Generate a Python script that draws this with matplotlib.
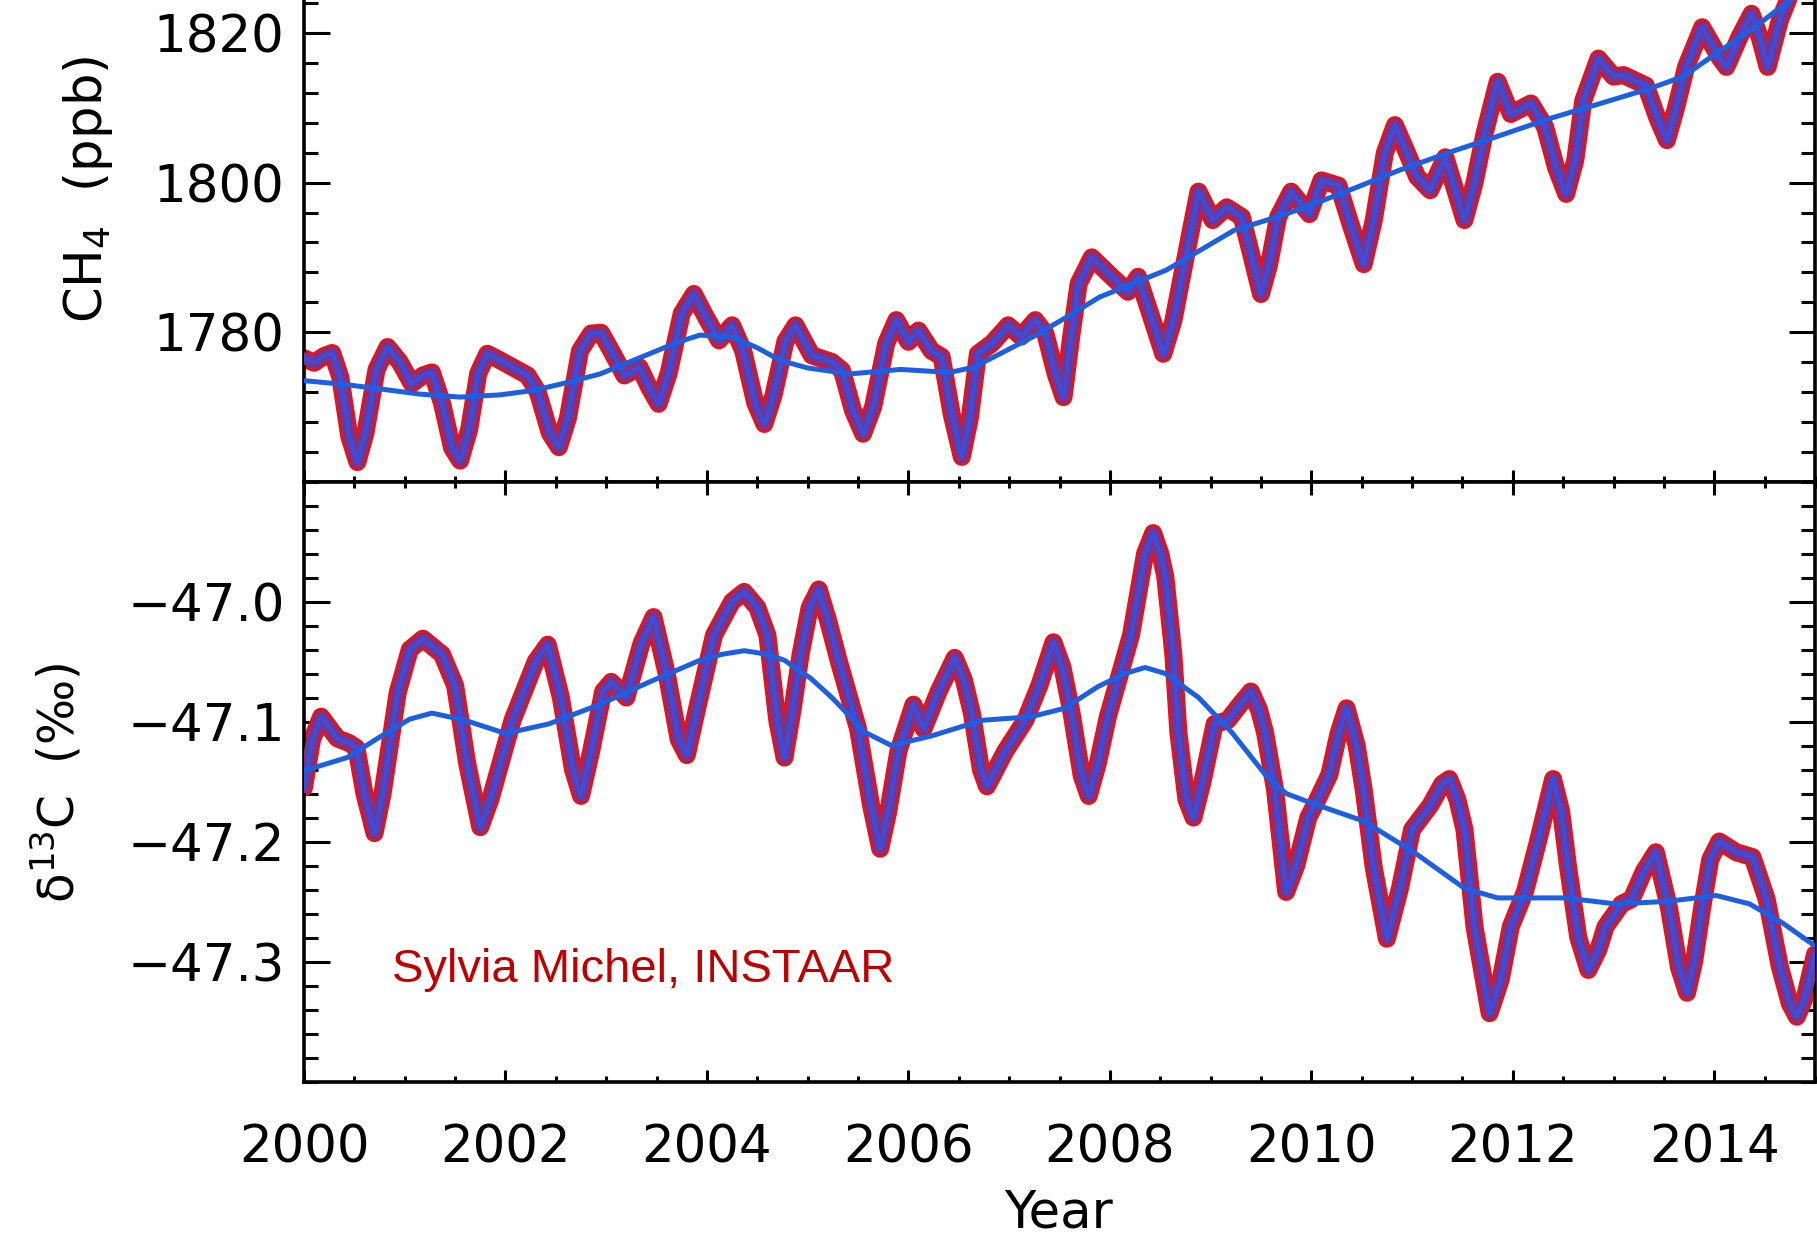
import numpy as np
import matplotlib
matplotlib.use('Agg')
import matplotlib.pyplot as plt

# CH4 record (ppb)
ch4_year = [2000.00, 2000.10, 2000.20, 2000.28, 2000.36, 2000.45, 2000.53, 2000.61, 2000.72, 2000.83,
            2000.95, 2001.07, 2001.18, 2001.27, 2001.37, 2001.47, 2001.55, 2001.64, 2001.73, 2001.82,
            2001.95, 2002.07, 2002.22, 2002.32, 2002.44, 2002.53, 2002.62, 2002.74, 2002.85, 2002.95,
            2003.07, 2003.18, 2003.33, 2003.43, 2003.52, 2003.62, 2003.75, 2003.87, 2003.99, 2004.12,
            2004.25, 2004.36, 2004.48, 2004.57, 2004.66, 2004.78, 2004.88, 2005.04, 2005.24, 2005.34,
            2005.45, 2005.55, 2005.65, 2005.78, 2005.88, 2006.00, 2006.10, 2006.23, 2006.33, 2006.43,
            2006.53, 2006.61, 2006.69, 2006.83, 2006.99, 2007.12, 2007.26, 2007.36, 2007.46, 2007.54,
            2007.62, 2007.69, 2007.82, 2008.02, 2008.18, 2008.28, 2008.40, 2008.53, 2008.63, 2008.74,
            2008.88, 2009.02, 2009.16, 2009.31, 2009.42, 2009.50, 2009.58, 2009.67, 2009.80, 2009.98,
            2010.10, 2010.27, 2010.40, 2010.52, 2010.62, 2010.73, 2010.83, 2010.95, 2011.05, 2011.18,
            2011.33, 2011.43, 2011.52, 2011.62, 2011.72, 2011.85, 2011.98, 2012.18, 2012.32, 2012.43,
            2012.53, 2012.62, 2012.70, 2012.85, 2013.00, 2013.10, 2013.32, 2013.44, 2013.53, 2013.62,
            2013.72, 2013.88, 2014.05, 2014.12, 2014.25, 2014.37, 2014.45, 2014.53, 2014.65, 2014.73,
            2014.80]
ch4_ppb = [1776.5, 1775.9, 1776.8, 1777.2, 1774.0, 1766.0, 1762.6, 1766.5, 1775.0, 1778.0,
           1776.0, 1773.1, 1774.2, 1774.6, 1770.5, 1764.5, 1762.8, 1767.0, 1774.5, 1777.1,
           1776.2, 1775.3, 1774.2, 1772.0, 1766.5, 1764.6, 1768.5, 1777.5, 1779.8, 1779.9,
           1777.0, 1774.2, 1775.3, 1772.5, 1770.4, 1774.5, 1782.5, 1785.1, 1782.0, 1778.9,
           1780.9, 1777.5, 1770.5, 1767.7, 1771.5, 1778.8, 1780.9, 1776.9, 1776.0, 1774.9,
           1769.5, 1766.4, 1770.0, 1778.5, 1781.6, 1778.7, 1780.2, 1777.5, 1776.7, 1769.0,
           1763.3, 1768.5, 1777.1, 1778.5, 1780.9, 1779.4, 1781.6, 1779.8, 1774.5, 1771.3,
           1779.8, 1786.5, 1790.0, 1787.4, 1785.4, 1787.4, 1782.5, 1777.1, 1781.5, 1789.2,
           1798.8, 1795.0, 1796.7, 1795.4, 1789.5, 1785.1, 1789.0, 1795.4, 1798.8, 1795.8,
           1800.3, 1799.6, 1794.0, 1789.1, 1795.0, 1804.0, 1807.7, 1804.0, 1800.8, 1799.0,
           1803.4, 1799.0, 1795.0, 1800.0, 1806.6, 1813.5, 1809.2, 1810.6, 1807.5, 1802.0,
           1798.5, 1803.0, 1811.0, 1816.6, 1814.2, 1814.4, 1813.0, 1808.5, 1805.7, 1810.0,
           1815.5, 1820.8, 1816.8, 1815.5, 1819.5, 1822.6, 1819.5, 1815.5, 1821.7, 1824.4,
           1827.0]

# CH4 smooth trend
ch4_trend_year = [2000.00, 2000.40, 2000.75, 2001.15, 2001.55, 2001.95, 2002.28, 2002.60, 2002.94, 2003.43,
                  2003.70, 2003.93, 2004.26, 2004.50, 2004.73, 2005.00, 2005.42, 2005.92, 2006.41, 2006.65,
                  2006.91, 2007.24, 2007.57, 2007.90, 2008.23, 2008.56, 2008.89, 2009.23, 2009.56, 2009.90,
                  2010.38, 2010.88, 2011.38, 2011.87, 2012.37, 2012.87, 2013.36, 2013.69, 2014.02, 2014.36,
                  2014.75, 2015.00]
ch4_trend = [1773.5, 1773.0, 1772.4, 1771.7, 1771.3, 1771.6, 1772.2, 1773.2, 1774.4, 1777.1,
             1778.6, 1779.6, 1779.3, 1777.9, 1776.2, 1775.2, 1774.4, 1775.0, 1774.6, 1775.3,
             1777.1, 1779.4, 1782.0, 1784.7, 1786.5, 1788.3, 1790.9, 1793.6, 1795.0, 1796.5,
             1799.0, 1801.7, 1804.1, 1806.3, 1808.6, 1810.6, 1812.6, 1814.2, 1817.3, 1820.4,
             1824.4, 1827.0]

# d13C record (permil)
d13c_year = [2000.00, 2000.08, 2000.17, 2000.25, 2000.33, 2000.45, 2000.52, 2000.60, 2000.70, 2000.78,
             2000.93, 2001.05, 2001.18, 2001.37, 2001.50, 2001.62, 2001.75, 2001.85, 2002.07, 2002.30,
             2002.42, 2002.55, 2002.67, 2002.75, 2002.85, 2002.97, 2003.05, 2003.20, 2003.35, 2003.47,
             2003.60, 2003.72, 2003.80, 2003.90, 2004.07, 2004.25, 2004.37, 2004.50, 2004.60, 2004.70,
             2004.77, 2004.85, 2004.93, 2005.02, 2005.11, 2005.20, 2005.31, 2005.50, 2005.63, 2005.72,
             2005.80, 2005.90, 2006.05, 2006.15, 2006.30, 2006.46, 2006.55, 2006.63, 2006.72, 2006.78,
             2006.96, 2007.16, 2007.30, 2007.44, 2007.53, 2007.62, 2007.72, 2007.79, 2007.88, 2007.98,
             2008.21, 2008.35, 2008.43, 2008.50, 2008.55, 2008.63, 2008.68, 2008.76, 2008.83, 2008.92,
             2009.04, 2009.17, 2009.30, 2009.40, 2009.48, 2009.54, 2009.64, 2009.75, 2009.85, 2009.97,
             2010.05, 2010.18, 2010.27, 2010.35, 2010.45, 2010.52, 2010.62, 2010.75, 2010.88, 2011.00,
             2011.18, 2011.30, 2011.37, 2011.45, 2011.52, 2011.62, 2011.77, 2011.88, 2011.98, 2012.12,
             2012.25, 2012.40, 2012.48, 2012.55, 2012.65, 2012.75, 2012.85, 2012.92, 2013.08, 2013.18,
             2013.30, 2013.42, 2013.55, 2013.65, 2013.73, 2013.80, 2013.88, 2013.96, 2014.05, 2014.22,
             2014.38, 2014.52, 2014.65, 2014.75, 2014.82, 2014.90, 2015.00]
d13c = [-47.155, -47.115, -47.096, -47.105, -47.114, -47.118, -47.122, -47.160, -47.193, -47.160,
        -47.076, -47.040, -47.031, -47.044, -47.070, -47.135, -47.188, -47.165, -47.099, -47.050,
        -47.036, -47.080, -47.140, -47.162, -47.125, -47.075, -47.067, -47.080, -47.035, -47.013,
        -47.060, -47.115, -47.128, -47.090, -47.028, -47.000, -46.992, -47.005, -47.028, -47.100,
        -47.130, -47.090, -47.044, -47.005, -46.990, -47.015, -47.050, -47.106, -47.170, -47.206,
        -47.175, -47.125, -47.086, -47.106, -47.075, -47.047, -47.065, -47.093, -47.140, -47.154,
        -47.125, -47.099, -47.070, -47.034, -47.055, -47.093, -47.145, -47.162, -47.135, -47.096,
        -47.028, -46.960, -46.943, -46.960, -46.979, -47.044, -47.109, -47.165, -47.180, -47.150,
        -47.102, -47.099, -47.085, -47.075, -47.090, -47.109, -47.157, -47.242, -47.220, -47.180,
        -47.167, -47.144, -47.110, -47.089, -47.120, -47.157, -47.222, -47.281, -47.239, -47.190,
        -47.170, -47.152, -47.148, -47.165, -47.190, -47.271, -47.343, -47.315, -47.271, -47.242,
        -47.200, -47.148, -47.175, -47.222, -47.280, -47.307, -47.290, -47.271, -47.252, -47.248,
        -47.225, -47.209, -47.255, -47.305, -47.326, -47.300, -47.255, -47.215, -47.200, -47.209,
        -47.213, -47.248, -47.304, -47.335, -47.346, -47.330, -47.294]

# d13C smooth trend
d13c_trend_year = [2000.00, 2000.43, 2000.77, 2001.05, 2001.27, 2001.60, 2002.00, 2002.43, 2002.93, 2003.43,
                   2003.93, 2004.15, 2004.37, 2004.60, 2004.77, 2005.03, 2005.24, 2005.57, 2005.83, 2006.23,
                   2006.73, 2007.22, 2007.55, 2007.88, 2008.15, 2008.35, 2008.55, 2008.88, 2009.21, 2009.54,
                   2009.75, 2009.97, 2010.52, 2011.02, 2011.52, 2011.85, 2012.52, 2013.02, 2013.52, 2014.02,
                   2014.35, 2014.68, 2015.00]
d13c_trend = [-47.141, -47.130, -47.112, -47.098, -47.093, -47.099, -47.110, -47.102, -47.086, -47.067,
              -47.049, -47.044, -47.041, -47.044, -47.049, -47.064, -47.080, -47.109, -47.120, -47.112,
              -47.099, -47.096, -47.089, -47.071, -47.060, -47.055, -47.060, -47.080, -47.109, -47.144,
              -47.160, -47.167, -47.183, -47.209, -47.239, -47.247, -47.247, -47.252, -47.250, -47.245,
              -47.252, -47.268, -47.287]

year_ticks = [2000, 2002, 2004, 2006, 2008, 2010, 2012, 2014]

plt.rcParams['font.family'] = ['DejaVu Sans']
plt.rcParams['font.size'] = 37

fig = plt.figure(figsize=(18.17, 12.38), dpi=100)
ax1 = fig.add_axes([0.16731, 0.61106, 0.83159, 0.38894])
ax2 = fig.add_axes([0.16731, 0.12641, 0.83159, 0.48465])

red = '#e3121c'
purple = '#6f3895'
blue_mid = '#3b4ee2'
blue_trend = '#1d5fe3'


def draw_series(ax, x, y, tx, ty):
    ax.plot(x, y, color=red, lw=13, solid_joinstyle='round', solid_capstyle='round', zorder=2)
    ax.plot(x, y, color=purple, lw=8.6, solid_joinstyle='round', solid_capstyle='round', zorder=3)
    ax.plot(x, y, color=blue_mid, lw=2.6, solid_joinstyle='round', zorder=4)
    ax.plot(tx, ty, color=blue_trend, lw=3.6, solid_joinstyle='round', zorder=5)


draw_series(ax1, ch4_year, ch4_ppb, ch4_trend_year, ch4_trend)
draw_series(ax2, d13c_year, d13c, d13c_trend_year, d13c_trend)

ax1.set_xlim(2000, 2015)
ax2.set_xlim(2000, 2015)
ax1.set_ylim(1760, 1824.45)
ax2.set_ylim(-47.4, -46.9)

for ax in (ax1, ax2):
    ax.set_xticks(year_ticks)
    ax.set_xticks(np.arange(2000, 2015.01, 0.5), minor=True)
    for s in ax.spines.values():
        s.set_linewidth(2.6)
    ax.tick_params(axis='both', which='both', direction='in', width=2.2,
                   top=True, bottom=True, left=True, right=True, labelsize=37, pad=14)
    ax.tick_params(axis='x', which='major', length=9)
    ax.tick_params(axis='x', which='minor', length=4.5)
    ax.tick_params(axis='y', which='major', length=19)
    ax.tick_params(axis='y', which='minor', length=10)

ax1.spines['top'].set_visible(False)
ax1.tick_params(axis='x', which='both', top=False, labelbottom=False)
ax1.set_yticks([1780, 1800, 1820])
ax1.set_yticks(np.arange(1760, 1825, 4), minor=True)

ax2.set_yticks([-47.3, -47.2, -47.1, -47.0])
ax2.set_yticks(np.arange(-47.4, -46.899, 0.02), minor=True)
ax2.set_yticklabels(['\u221247.3', '\u221247.2', '\u221247.1', '\u221247.0'])
ax2.tick_params(axis='x', which='major', pad=30)

fig.text(88 / 1817, 1 - 189 / 1238, 'CH$_4$  (ppb)', rotation=90, ha='center', va='center', fontsize=37)
fig.text(57 / 1817, 1 - 783 / 1238, '\u03b4$^{13}$C  (\u2030)', rotation=90, ha='center', va='center', fontsize=35)
fig.text(1059 / 1817, 1 - 1213 / 1238, 'Year', ha='center', va='center', fontsize=37)

ax2.text(0.0582, 0.166, 'Sylvia Michel, INSTAAR', transform=ax2.transAxes, color='#c00000',
         fontsize=34, family='Liberation Sans', va='baseline', ha='left')

fig.savefig('out.png', dpi=100)
